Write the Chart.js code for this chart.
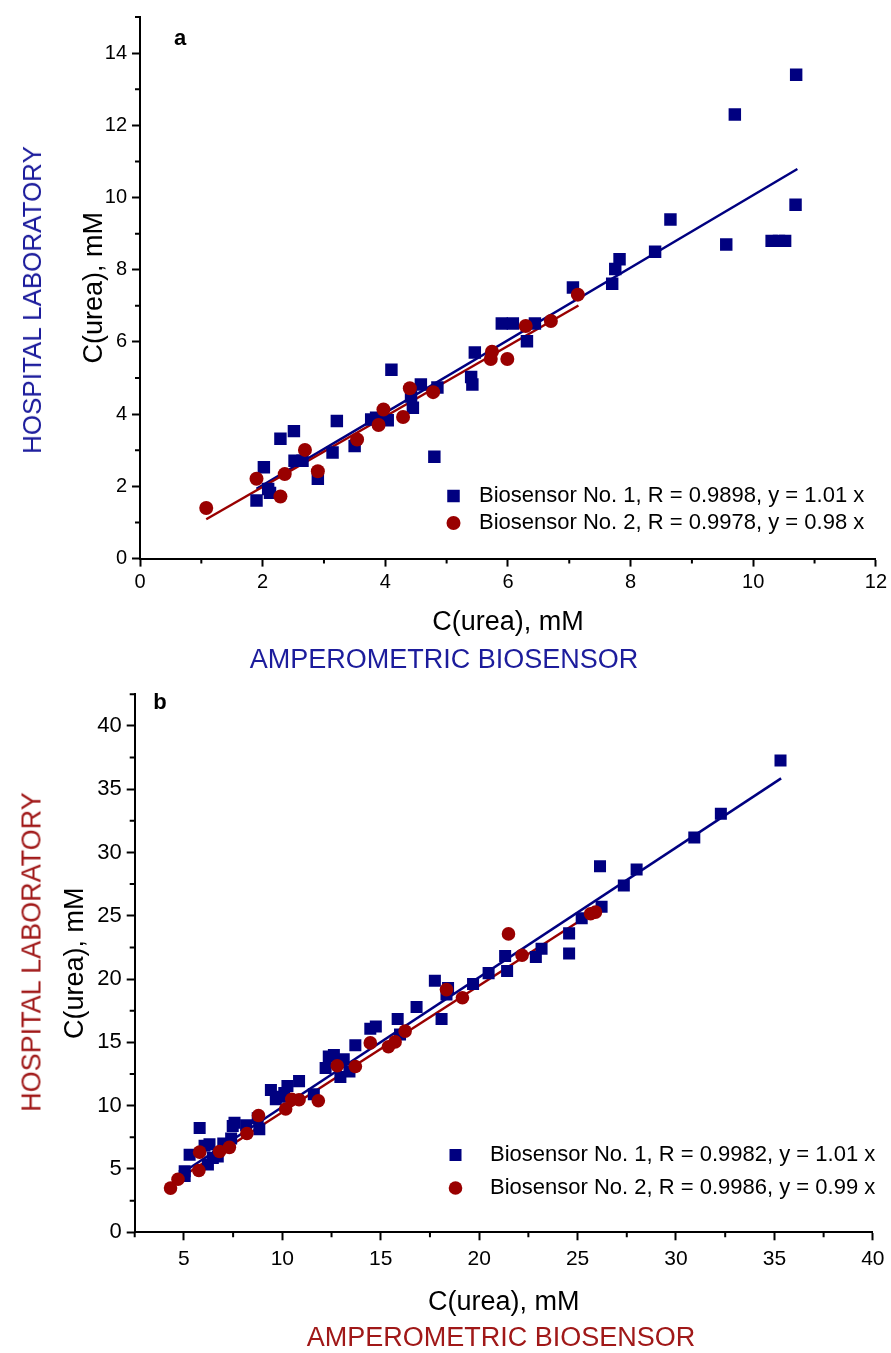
<!DOCTYPE html>
<html><head><meta charset="utf-8">
<script src="https://cdn.jsdelivr.net/npm/chart.js@4.4.0/dist/chart.umd.min.js"></script>
<style>
html,body{margin:0;padding:0;background:#fff}
body{width:891px;height:1353px;position:relative;overflow:hidden;font-family:"Liberation Sans",Arial,sans-serif}
.cv{position:absolute;left:0}
.lbl{position:absolute;white-space:nowrap;transform:translate(-50%,-50%);line-height:1}
.rot{transform:translate(-50%,-50%) rotate(-90deg)}
</style></head>
<body>
<canvas id="ca" class="cv" style="top:0" width="891" height="676"></canvas>
<canvas id="cb" class="cv" style="top:676px" width="891" height="677"></canvas>
<div class="lbl rot" style="left:32px;top:300px;font-size:26px;color:#1c1c9c">HOSPITAL LABORATORY</div>
<div class="lbl" style="left:444px;top:659px;font-size:27px;color:#1c1c9c">AMPEROMETRIC BIOSENSOR</div>
<div class="lbl rot" style="left:32px;top:952px;font-size:27px;color:#a01818">HOSPITAL LABORATORY</div>
<div class="lbl" style="left:501px;top:1337px;font-size:27px;color:#a01818">AMPEROMETRIC BIOSENSOR</div>
<div class="lbl" style="left:180px;top:38px;font-size:22px;font-weight:bold">a</div>
<div class="lbl" style="left:160px;top:702px;font-size:22px;font-weight:bold">b</div>
<script>
// ---------- Panel a data ----------
const aS1x = [10.70, 9.70, 10.69, 9.56, 10.30, 10.42, 10.52, 8.65, 8.40, 7.82, 7.75, 7.70, 7.06, 5.90, 6.08, 6.44, 6.31, 5.46, 5.40, 5.42, 4.85, 4.58, 4.10, 4.42, 4.45, 4.04, 3.85, 3.77, 4.80, 3.21, 3.50, 3.14, 2.51, 2.29, 2.52, 2.65, 2.90, 2.02, 2.09, 2.12, 1.90];
const aS1y = [13.40, 12.30, 9.80, 8.70, 8.80, 8.80, 8.80, 9.39, 8.50, 8.29, 8.02, 7.61, 7.51, 6.51, 6.51, 6.51, 6.02, 5.71, 5.03, 4.82, 4.74, 4.82, 5.23, 4.49, 4.18, 3.83, 3.90, 3.85, 2.82, 3.81, 3.12, 2.94, 3.53, 3.32, 2.71, 2.71, 2.21, 2.53, 1.93, 1.82, 1.61];
const aS2x = [1.08, 1.90, 2.29, 2.36, 2.69, 2.90, 3.54, 3.89, 3.97, 4.29, 4.40, 4.78, 5.72, 5.74, 5.99, 6.29, 6.70, 7.14];
const aS2y = [1.40, 2.21, 1.72, 2.34, 3.01, 2.42, 3.30, 3.70, 4.13, 3.92, 4.72, 4.61, 5.53, 5.73, 5.53, 6.44, 6.58, 7.31];
const aFit1x = [1.90, 10.72], aFit1y = [1.93, 10.79];
const aFit2x = [1.08, 7.15], aFit2y = [1.09, 7.01];
const aTicksX = [0, 2, 4, 6, 8, 10, 12];
const aTicksY = [0, 2, 4, 6, 8, 10, 12, 14];
const aMinorX = [1, 3, 5, 7, 9, 11];
const aMinorY = [1, 3, 5, 7, 9, 11, 13, 15];
const aLegend = ['Biosensor No. 1, R = 0.9898, y = 1.01 x', 'Biosensor No. 2, R = 0.9978, y = 0.98 x'];

// ---------- Panel b data ----------
const bS1x = [5.04, 5.04, 5.29, 6.22, 6.47, 6.72, 6.05, 6.30, 7.00, 5.80, 7.40, 7.48, 7.57, 8.16, 8.83, 8.75, 9.42, 9.67, 9.90, 10.26, 10.10, 10.85, 11.60, 12.20, 12.36, 12.62, 12.95, 13.12, 13.41, 13.71, 14.47, 14.75, 15.98, 15.86, 16.82, 18.09, 17.75, 18.42, 18.34, 19.69, 20.48, 21.32, 21.42, 22.88, 23.17, 24.57, 24.57, 25.21, 26.22, 26.14, 27.35, 28.00, 30.93, 32.28, 35.31];
const bS1y = [4.44, 4.83, 6.12, 5.35, 5.86, 5.99, 6.84, 6.95, 7.02, 8.24, 7.41, 8.40, 8.65, 8.45, 8.14, 9.00, 11.24, 10.51, 10.70, 11.55, 11.00, 11.94, 10.90, 12.97, 13.88, 14.00, 12.27, 13.67, 12.71, 14.78, 16.07, 16.25, 15.63, 16.84, 17.80, 16.84, 19.87, 19.30, 18.78, 19.61, 20.47, 21.83, 20.64, 21.75, 22.40, 22.02, 23.61, 24.81, 25.71, 28.91, 27.39, 28.65, 31.19, 33.05, 37.26];
const bS2x = [4.32, 4.70, 5.76, 5.80, 6.81, 7.31, 8.20, 8.79, 10.17, 10.48, 10.85, 11.83, 12.79, 13.71, 14.47, 15.39, 15.73, 16.24, 18.34, 19.15, 21.49, 22.18, 25.66, 25.91];
const bS2y = [3.49, 4.19, 4.88, 6.33, 6.38, 6.71, 7.80, 9.22, 9.74, 10.51, 10.47, 10.39, 13.15, 13.10, 14.96, 14.65, 15.04, 15.89, 19.17, 18.53, 23.57, 21.88, 25.16, 25.29];
const bFit1x = [4.79, 35.34], bFit1y = [4.57, 35.85];
const bFit2x = [4.37, 25.75], bFit2y = [3.85, 25.24];
const bTicksX = [5, 10, 15, 20, 25, 30, 35, 40];
const bTicksY = [0, 5, 10, 15, 20, 25, 30, 35, 40];
const bMinorX = [2.5, 7.5, 12.5, 17.5, 22.5, 27.5, 32.5, 37.5];
const bMinorY = [2.5, 7.5, 12.5, 17.5, 22.5, 27.5, 32.5, 37.5, 42.5];
const bLegend = ['Biosensor No. 1, R = 0.9982, y = 1.01 x', 'Biosensor No. 2, R = 0.9986, y = 0.99 x'];

const BLUE = '#000080', RED = '#990000';
const FONT = '"Liberation Sans", Arial, sans-serif';
const pts = (xs, ys) => xs.map((x, i) => ({x: x, y: ys[i]}));

const minorTicks = {
  id: 'minorTicks',
  afterDraw(chart, args, opts) {
    const ctx = chart.ctx;
    ctx.save();
    ctx.strokeStyle = '#000';
    ctx.lineWidth = 2;
    const xs = chart.scales.x, ys = chart.scales.y;
    ctx.beginPath();
    (opts.x || []).forEach(v => {
      const p = xs.getPixelForValue(v);
      ctx.moveTo(p, xs.top); ctx.lineTo(p, xs.top + opts.len);
    });
    (opts.y || []).forEach(v => {
      const p = ys.getPixelForValue(v);
      ctx.moveTo(ys.right, p); ctx.lineTo(ys.right - opts.len, p);
    });
    ctx.stroke();
    ctx.restore();
  }
};

const legendPlugin = {
  id: 'customLegend',
  afterDraw(chart, args, o) {
    const ctx = chart.ctx;
    ctx.save();
    ctx.font = o.fontSize + 'px ' + FONT;
    ctx.textBaseline = 'middle';
    ctx.textAlign = 'left';
    o.items.forEach((t, i) => {
      const y = o.rows[i];
      if (i === 0) {
        ctx.fillStyle = BLUE;
        ctx.fillRect(o.mx - o.sq / 2, y - o.sq / 2, o.sq, o.sq);
      } else {
        ctx.fillStyle = RED;
        ctx.beginPath(); ctx.arc(o.mx, y, o.cr, 0, Math.PI * 2); ctx.fill();
      }
      ctx.fillStyle = '#000';
      ctx.fillText(t, o.tx, y);
    });
    ctx.restore();
  }
};

function makeChart(id, cfg) {
  const ds = [
    {data: pts(cfg.s2x, cfg.s2y), pointStyle: 'circle', pointRadius: cfg.cr, backgroundColor: RED, borderColor: RED, borderWidth: 0, pointHoverRadius: cfg.cr},
    {data: pts(cfg.s1x, cfg.s1y), pointStyle: 'rect', pointRadius: cfg.sr, backgroundColor: BLUE, borderColor: BLUE, borderWidth: 0, pointHoverRadius: cfg.sr},
    {data: pts(cfg.f2x, cfg.f2y), showLine: true, pointRadius: 0, borderColor: RED, borderWidth: 2.5, backgroundColor: RED},
    {data: pts(cfg.f1x, cfg.f1y), showLine: true, pointRadius: 0, borderColor: BLUE, borderWidth: 2.5, backgroundColor: BLUE}
  ];
  const axisCommon = {
    type: 'linear',
    grid: {display: true, drawOnChartArea: false, drawTicks: true, tickLength: 8, tickWidth: 2, tickColor: '#000'},
    border: {display: true, color: '#000', width: 2}
  };
  return new Chart(document.getElementById(id), {
    type: 'scatter',
    data: {datasets: ds},
    options: {
      responsive: false, animation: false, devicePixelRatio: 1,
      layout: {padding: {top: cfg.padTop, right: cfg.padRight, left: 0, bottom: 0}},
      plugins: {
        legend: {display: false}, tooltip: {enabled: false},
        minorTicks: {x: cfg.minorX, y: cfg.minorY, len: 5},
        customLegend: cfg.legend
      },
      scales: {
        x: Object.assign({}, axisCommon, {
          min: cfg.xmin, max: cfg.xmax, position: 'bottom',
          afterBuildTicks: s => { s.ticks = cfg.ticksX.map(v => ({value: v})); },
          afterFit: s => { s.height = cfg.xAxisH; },
          ticks: {color: '#000', padding: cfg.xTickPad, maxRotation: 0, autoSkip: false, font: {family: FONT, size: cfg.xTickSize}},
          title: {display: true, text: 'C(urea), mM', color: '#000', font: {family: FONT, size: cfg.titleSize}, padding: {top: 0, bottom: cfg.xTitlePad}}
        }),
        y: Object.assign({}, axisCommon, {
          min: cfg.ymin, max: cfg.ymax, position: 'left',
          afterBuildTicks: s => { s.ticks = cfg.ticksY.map(v => ({value: v})); },
          afterFit: s => { s.width = cfg.yAxisW; },
          ticks: {color: '#000', padding: cfg.yTickPad, autoSkip: false, font: {family: FONT, size: cfg.yTickSize}},
          title: {display: true, text: 'C(urea), mM', color: '#000', font: {family: FONT, size: cfg.titleSize}, padding: {top: cfg.yTitlePad, bottom: 0}}
        })
      }
    },
    plugins: [minorTicks, legendPlugin]
  });
}

makeChart('ca', {
  s1x: aS1x, s1y: aS1y, s2x: aS2x, s2y: aS2y, f1x: aFit1x, f1y: aFit1y, f2x: aFit2x, f2y: aFit2y,
  sr: 8.8, cr: 7,
  xmin: 0, xmax: 12, ymin: 0, ymax: 15,
  ticksX: aTicksX, ticksY: aTicksY, minorX: aMinorX, minorY: aMinorY,
  padTop: 12.6, padRight: 13, xAxisH: 676 - 558.6, yAxisW: 140,
  xTickPad: 4, yTickPad: 5, xTickSize: 20, yTickSize: 20, titleSize: 27,
  xTitlePad: 37.5, yTitlePad: 78,
  legend: {items: aLegend, rows: [496, 523], mx: 453.5, tx: 479, sq: 12.5, cr: 7, fontSize: 22}
});

makeChart('cb', {
  s1x: bS1x, s1y: bS1y, s2x: bS2x, s2y: bS2y, f1x: bFit1x, f1y: bFit1y, f2x: bFit2x, f2y: bFit2y,
  sr: 8.5, cr: 6.8,
  xmin: 2.5, xmax: 40, ymin: 0, ymax: 42.5,
  ticksX: bTicksX, ticksY: bTicksY, minorX: bMinorX, minorY: bMinorY,
  padTop: 8, padRight: 13.8, xAxisH: 677 - 556.3, yAxisW: 134.7,
  xTickPad: 6.5, yTickPad: 5, xTickSize: 21, yTickSize: 22, titleSize: 27,
  xTitlePad: 34.5, yTitlePad: 59,
  legend: {items: bLegend, rows: [479, 512], mx: 455.5, tx: 490, sq: 12, cr: 6.8, fontSize: 22}
});
</script>
</body></html>
